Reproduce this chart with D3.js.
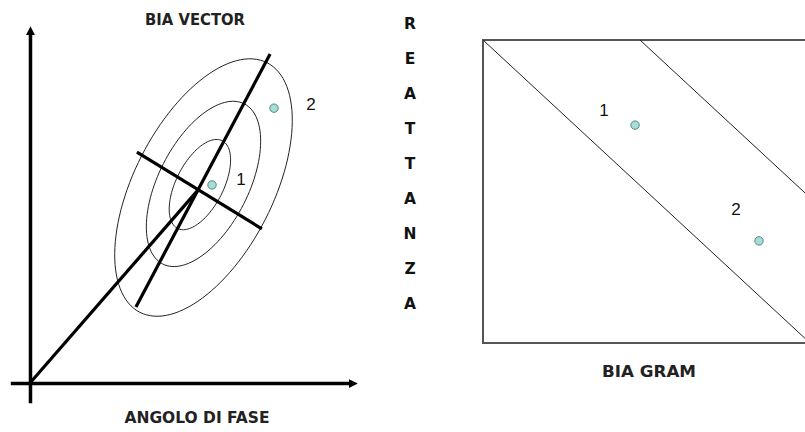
<!DOCTYPE html>
<html>
<head>
<meta charset="utf-8">
<script src="https://cdn.jsdelivr.net/npm/d3@7"></script>
<style>
  html, body { margin: 0; padding: 0; background: #fff; }
  svg { display: block; }
</style>
</head>
<body>
<svg id="chart" width="805" height="432"></svg>
<script>
// ---------- DATA ----------
// Left panel (BIA VECTOR): resistance/phase space, arbitrary units
const vectorTitle = "BIA VECTOR";
const vectorXLabel = "ANGOLO DI FASE";
const mainVector = [[0, 0], [51.2, 58.8]];           // from origin to mean point
const majorAxis = [[32.3, 23.2], [73.2, 100.3]];      // long axis through ellipses
const minorAxis = [[32.6, 70.4], [70.7, 47.0]];       // crossing axis
// tolerance ellipses: centre x, centre y, semi-major, semi-minor, tilt (deg from x axis)
const ellipseCx = [51.8, 52.9, 52.9];
const ellipseCy = [60.5, 60.7, 59.6];
const ellipseA  = [15.0, 27.4, 42.7];
const ellipseB  = [7.2, 13.7, 21.2];
const ellipseTilt = [63, 63, 63];
const vectorPointLabels = ["1", "2"];
const vectorPointX = [55.5, 74.4];
const vectorPointY = [60.4, 83.8];
const vectorLabelX = [64.3, 85.7];
const vectorLabelY = [61.9, 84.8];

// Right panel (BIA GRAM)
const gramTitle = "BIA GRAM";
const gramYLabel = ["R", "E", "A", "T", "T", "A", "N", "Z", "A"];
const gramLines = [[[0, 100], [100, 0]], [[48, 100], [100, 48]]];
const gramPointLabels = ["1", "2"];
const gramPointX = [46.5, 84.4];
const gramPointY = [71.9, 33.7];
const gramLabelX = [37.0, 77.4];
const gramLabelY = [76.6, 43.9];

// ---------- DRAW ----------
const svg = d3.select("#chart");
const boldFont = "'DejaVu Sans', sans-serif";
const numFont = "'Liberation Sans', Arial, sans-serif";
const dotFill = "#a8dcd6", dotStroke = "#4f8a85";

// defs: arrowheads
const defs = svg.append("defs");
defs.append("marker")
  .attr("id", "arrow")
  .attr("viewBox", "0 0 10 10")
  .attr("refX", 2).attr("refY", 5)
  .attr("markerWidth", 2.6).attr("markerHeight", 2.6)
  .attr("markerUnits", "strokeWidth")
  .attr("orient", "auto")
  .append("path").attr("d", "M0,0 L10,5 L0,10 Z").attr("fill", "#000");

// ----- Left panel -----
const x = d3.scaleLinear().domain([-6, 100]).range([10.3, 358]);
const y = d3.scaleLinear().domain([-6, 109]).range([402.7, 25.5]);
const L = svg.append("g");

const xAxis = L.append("g").attr("transform", `translate(0,${y(0)})`)
  .call(d3.axisBottom(x.copy().range([10.3, 350])).tickValues([]).tickSizeOuter(0));
xAxis.select(".domain").attr("stroke", "#000").attr("stroke-width", 3.5).attr("marker-end", "url(#arrow)");

const yAxis = L.append("g").attr("transform", `translate(${x(0)},0)`)
  .call(d3.axisLeft(y.copy().range([402.7, 33])).tickValues([]).tickSizeOuter(0));
yAxis.select(".domain").attr("stroke", "#000").attr("stroke-width", 3.5).attr("marker-end", "url(#arrow)");

const line = d3.line().x(d => x(d[0])).y(d => y(d[1]));

// ellipses (param points in data space)
const ellipses = ellipseCx.map((cx, i) => ({cx, cy: ellipseCy[i], a: ellipseA[i], b: ellipseB[i], t: ellipseTilt[i]}));
L.selectAll("path.ell").data(ellipses).join("path").attr("class", "ell")
  .attr("d", e => {
    const th = e.t * Math.PI / 180;
    const pts = d3.range(0, 361, 3).map(deg => {
      const p = deg * Math.PI / 180;
      const u = e.a * Math.cos(p), v = e.b * Math.sin(p);
      return [e.cx + u * Math.cos(th) - v * Math.sin(th), e.cy + u * Math.sin(th) + v * Math.cos(th)];
    });
    return d3.line().x(d => x(d[0])).y(d => y(d[1])).curve(d3.curveLinearClosed)(pts);
  })
  .attr("fill", "none").attr("stroke", "#222").attr("stroke-width", 1);

L.selectAll("path.vec").data([mainVector, majorAxis, minorAxis]).join("path").attr("class", "vec")
  .attr("d", line).attr("fill", "none").attr("stroke", "#000").attr("stroke-width", 3.2);

L.selectAll("circle.pt").data(vectorPointX).join("circle").attr("class", "pt")
  .attr("cx", d => x(d)).attr("cy", (d, i) => y(vectorPointY[i])).attr("r", 4.2)
  .attr("fill", dotFill).attr("stroke", dotStroke).attr("stroke-width", 1);

L.selectAll("text.lab").data(vectorPointLabels).join("text").attr("class", "lab")
  .attr("x", (d, i) => x(vectorLabelX[i])).attr("y", (d, i) => y(vectorLabelY[i]))
  .attr("text-anchor", "middle").attr("dominant-baseline", "central")
  .attr("font-family", numFont).attr("font-size", 17).attr("fill", "#111").text(d => d);

L.append("text").attr("x", 195).attr("y", 20).attr("text-anchor", "middle").attr("dominant-baseline", "central")
  .attr("font-family", boldFont).attr("font-weight", "bold").attr("font-size", 15).attr("fill", "#222")
  .attr("textLength", 100).attr("lengthAdjust", "spacingAndGlyphs").text(vectorTitle);
L.append("text").attr("x", 197).attr("y", 418).attr("text-anchor", "middle").attr("dominant-baseline", "central")
  .attr("font-family", boldFont).attr("font-weight", "bold").attr("font-size", 15).attr("fill", "#222")
  .attr("textLength", 145).attr("lengthAdjust", "spacingAndGlyphs").text(vectorXLabel);

// ----- Right panel -----
const bx = d3.scaleLinear().domain([0, 100]).range([483, 810]);
const by = d3.scaleLinear().domain([0, 100]).range([343, 40]);
const R = svg.append("g");

R.append("rect").attr("x", bx(0)).attr("y", by(100)).attr("width", bx(100) - bx(0)).attr("height", by(0) - by(100))
  .attr("fill", "none").attr("stroke", "#555").attr("stroke-width", 2);

R.selectAll("path.diag").data(gramLines).join("path").attr("class", "diag")
  .attr("d", d3.line().x(d => bx(d[0])).y(d => by(d[1])))
  .attr("fill", "none").attr("stroke", "#222").attr("stroke-width", 1);

R.selectAll("circle.pt").data(gramPointX).join("circle").attr("class", "pt")
  .attr("cx", d => bx(d)).attr("cy", (d, i) => by(gramPointY[i])).attr("r", 4.2)
  .attr("fill", dotFill).attr("stroke", dotStroke).attr("stroke-width", 1);

R.selectAll("text.lab").data(gramPointLabels).join("text").attr("class", "lab")
  .attr("x", (d, i) => bx(gramLabelX[i])).attr("y", (d, i) => by(gramLabelY[i]))
  .attr("text-anchor", "middle").attr("dominant-baseline", "central")
  .attr("font-family", numFont).attr("font-size", 17).attr("fill", "#111").text(d => d);

R.append("text").attr("x", 649).attr("y", 372).attr("text-anchor", "middle").attr("dominant-baseline", "central")
  .attr("font-family", boldFont).attr("font-weight", "bold").attr("font-size", 15).attr("fill", "#222")
  .attr("textLength", 94).attr("lengthAdjust", "spacingAndGlyphs").text(gramTitle);

const letterY = d3.scalePoint().domain(d3.range(gramYLabel.length)).range([24, 304]);
R.selectAll("text.vl").data(gramYLabel).join("text").attr("class", "vl")
  .attr("x", 410).attr("y", (d, i) => letterY(i)).attr("text-anchor", "middle").attr("dominant-baseline", "central")
  .attr("font-family", boldFont).attr("font-weight", "bold").attr("font-size", 15.5).attr("fill", "#111")
  .text(d => d);
</script>
</body>
</html>
